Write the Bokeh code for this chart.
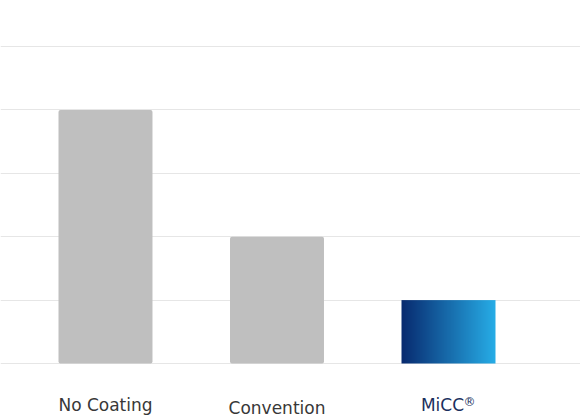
import numpy as np
from bokeh.plotting import figure
from bokeh.models import FixedTicker, Range1d
from bokeh.core.properties import value
from bokeh.embed import file_html
from bokeh.resources import INLINE

# Chart data
categories = ["No Coating", "Convention", "MiCC"]
values = [4, 2, 1]
grid_ticks = [0, 1, 2, 3, 4, 5]

W, H = 580, 418
bar_width = 0.548

p = figure(width=W, height=H, output_backend="svg", toolbar_location=None,
           x_range=Range1d(-0.6122, 2.7697), y_range=Range1d(-0.8675, 5.7256),
           min_border=0, min_border_left=0, min_border_right=0,
           min_border_top=0, min_border_bottom=0)
p.outline_line_color = None
p.xaxis.visible = False
p.yaxis.visible = False
p.xgrid.visible = False
p.yaxis.ticker = FixedTicker(ticks=grid_ticks)
p.ygrid.ticker = FixedTicker(ticks=grid_ticks)
p.ygrid.grid_line_color = "#e6e6e6"
p.ygrid.grid_line_width = 1
p.background_fill_color = "white"
p.border_fill_color = "white"

idx = list(range(len(categories)))

# Grey bars for the first two categories
p.vbar(x=idx[:2], top=values[:2], width=bar_width, bottom=0,
       fill_color="#bfbfbf", line_color=None, border_radius=2)

# Gradient-filled bar for MiCC (dark navy -> light blue)
n = 94
left = np.array([8, 43, 112], dtype=float)
right = np.array([39, 174, 232], dtype=float)
t = np.linspace(0, 1, n)[None, :, None]
rgb = left[None, None, :] * (1 - t) + right[None, None, :] * t
img = np.zeros((2, n), dtype=np.uint32)
view = img.view(dtype=np.uint8).reshape((2, n, 4))
view[:, :, 0:3] = np.repeat(rgb, 2, axis=0).astype(np.uint8)
view[:, :, 3] = 255
p.image_rgba(image=[img], x=idx[2] - bar_width / 2, y=0,
             dw=bar_width, dh=values[2])

# Category labels below the bars
font = value("DejaVu Sans")
p.text(x=idx[:2], y=[-0.647, -0.707], text=categories[:2], text_font=font,
       text_font_size="17px", text_color="#383838",
       text_align="center", text_baseline="middle")
p.text(x=[idx[2]], y=[-0.647], text=[categories[2]], text_font=font,
       text_font_size="17px", text_color="#1b2f5e",
       text_align="center", text_baseline="middle", x_offset=-6)
p.text(x=[idx[2]], y=[-0.647], text=["®"], text_font=font,
       text_font_size="12px", text_color="#1b2f5e",
       text_align="center", text_baseline="middle", x_offset=21, y_offset=-3)

open("out.html", "w").write(file_html(p, INLINE))
